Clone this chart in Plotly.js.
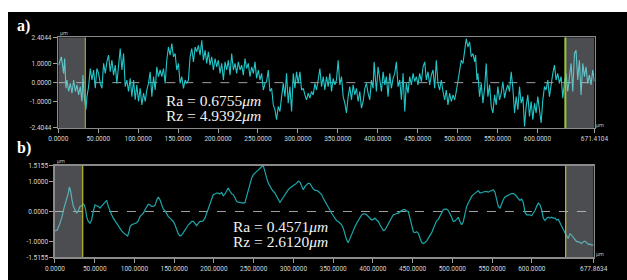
<!DOCTYPE html>
<html>
<head>
<meta charset="utf-8">
<script src="https://cdn.plot.ly/plotly-3.0.1.min.js"></script>
<style>
html,body{margin:0;padding:0;background:#ffffff;width:627px;height:280px;overflow:hidden;}
#chart{position:absolute;left:8px;top:12px;width:619px;height:268px;}
</style>
</head>
<body>
<div id="chart"></div>
<script>
// ---- profile a) ----
var aX = [0.4,3.8,6.7,7.9,9.6,10.8,12.9,15,17.1,19.2,21.3,23.3,25.4,27.5,29.6,30.8,32.5,34.6,35.8,37.9,40,42.1,44.2,46.3,48.3,50.4,52.5,54.6,56.7,58.8,60.8,62.9,65,67.1,69.2,71.3,73.3,75.4,77.5,79.6,81.7,83.8,85.8,87.9,90,92.1,94.2,96.3,98.3,100.4,102.5,104.6,106.7,108.8,110.8,112.9,115,117.1,119.2,121.3,123.3,125.4,127.5,
129.6,131.7,133.8,135.8,137.9,140,142.1,144.2,146.3,148.3,150.4,152.5,154.6,156.7,158.8,160.8,162.9,165,167.1,169.2,171.3,173.3,175.4,177.5,179.6,181.7,183.8,185.8,187.9,190,192.1,194.2,196.3,198.3,200.4,202.5,204.6,206.7,208.8,210.8,212.9,215,217.1,219.2,221.3,223.3,225.4,227.5,229.6,231.7,233.8,235.8,237.9,240,242.1,244.2,246.3,248.3,250.4,252.5,254.6,256.7,258.8,
260.8,262.9,265,267.1,269.2,271.3,273.3,275.4,277.5,279.6,281.7,283.8,285.8,287.9,290,292.1,294.2,296.3,298.3,300.4,302.5,304.6,306.7,308.8,310.8,312.9,315,317.1,319.2,321.3,323.3,325.4,327.5,329.6,331.7,333.8,335.8,337.9,340,342.1,344.2,346.3,348.3,350.4,352.5,354.6,356.7,358.8,360.8,362.9,365,367.1,369.2,371.3,373.3,375.4,377.5,379.6,381.7,383.8,385.8,387.9,390,
392.1,394.2,395.4,397.1,398.3,400.4,402.5,404.6,406.7,408.8,410.8,412.9,415,417.1,419.2,421.3,423.3,425.4,427.5,429.6,431.7,433.8,435.8,437.9,440,442.1,444.2,446.3,448.3,450.4,452.5,454.6,456.7,458.8,460.8,462.9,465,467.1,469.2,471.3,473.3,475.4,477.5,479.6,481.7,483.8,485.8,487.9,490,492.1,494.2,496.3,498.3,500.4,502.5,504.6,506.7,508.8,510.8,512.9,515,517.1,519.2,521.3,
522.5,524.2,525.4,527.5,529.6,531.7,533.8,535.8,537.9,540,542.1,544.2,546.3,548.3,550.4,552.5,554.6,556.7,558.8,560.8,562.9,565,567.1,569.2,571.3,573.3,575.4,577.5,579.6,581.7,583.8,585.8,587.9,590,592.1,594.2,596.3,598.3,600.4,602.5,604.6,606.7,608.8,610.8,612.9,615,617.1,619.2,621.3,623.3,625.4,627.5,629.6,631.7,633.8,635.8,637.9,640,642.1,644.2,646.3,648.3,650.4,652.5,654.6,656.7,658.8,660.8,662.9,665,667.1,669.2,671.4];
var aY = [0.93,1.37,0.49,1.28,-0.30,0.14,-0.47,-0.04,-0.56,0.14,-0.47,-0.12,-0.65,-0.21,-1.0,0.40,-0.74,-1.44,-0.74,-0.21,0.75,0.14,0.67,-0.30,0.75,0.49,-0.04,-0.30,1.02,0.49,1.1,1.46,0.58,1.19,0.40,0.93,-0.04,1.1,1.81,0.67,1.54,-0.21,0.14,-0.47,0.23,-0.74,0.14,-0.91,-0.12,-1.0,-0.30,-1.18,-0.56,-1.0,-0.39,-0.04,0.58,-0.74,0.32,-0.39,0.84,0.32,0.67,
0.32,0.75,-0.04,1.19,1.89,1.46,2.07,1.37,1.54,0.67,1.02,-0.04,0.32,-0.30,0.14,-0.04,0.14,1.37,1.81,1.1,1.89,1.63,1.98,1.46,2.25,1.19,1.72,1.02,1.63,0.93,1.37,0.67,1.28,0.84,1.19,0.49,1.02,0.14,1.1,0.67,1.19,0.40,1.54,0.67,1.02,0.49,1.1,0.67,0.93,0.40,1.28,0.75,1.02,0.32,0.84,0.49,1.1,0.23,0.67,0.14,0.49,-0.39,-0.04,
0.05,0.67,-0.47,-0.30,-1.18,-1.44,-1.96,-1.26,-1.53,-0.74,-0.04,-0.74,0.49,-1.09,-0.21,-1.53,0.49,-0.30,0.58,-0.04,0.58,-0.39,-0.30,-0.65,-0.91,-0.56,-0.82,-0.47,-0.65,-0.04,-0.39,0.14,0.75,-0.21,0.32,-0.39,0.32,-0.21,0.49,-0.47,0.23,-0.12,0.14,1.19,-0.12,0.32,-0.74,-1.09,-1.61,-0.74,-0.21,-0.91,-0.12,-0.65,-0.30,-1.0,-0.47,-1.35,-1.0,-0.30,-0.04,-0.56,-0.91,
0.14,-0.30,1.1,-0.04,-0.47,0.84,0.14,-0.47,0.58,-0.12,0.32,-0.74,0.49,-0.30,0.23,0.49,1.1,-0.21,0.14,-0.91,0.49,-1.53,-0.04,-0.56,0.32,-0.12,0.49,0.05,0.32,-0.12,0.49,0.05,0.84,1.1,0.14,0.58,-0.12,0.40,0.67,-0.30,1.19,-0.04,-0.39,0.14,-0.47,-0.91,-0.39,-1.18,-0.56,-1.0,-0.65,-0.91,-0.47,0.14,0.67,1.19,1.02,1.81,2.33,1.89,2.16,1.37,1.54,1.1,
1.46,0.14,0.49,-0.74,-0.04,-1.09,-0.30,1.02,-0.74,-0.12,-1.26,-1.61,-0.65,-1.18,-0.21,-0.91,-0.56,0.05,-0.82,-0.39,-0.12,-0.47,0.58,-0.30,-1.61,-0.74,-1.44,-0.21,-1.09,-0.74,-2.32,-1.26,-0.65,-1.79,-1.0,-1.96,-1.09,-1.61,-0.74,-1.44,-2.14,-0.91,-0.21,-0.39,0.14,-0.74,-0.04,0.49,0.93,0.14,0.49,-0.04,0.32,-0.82,0.05,0.49,-0.47,0.23,1.02,-0.47,1.54,1.72,0.14,1.19,-0.65,1.02,0.32,0.84,-0.04,0.40,-0.12,0.67,0.05];

// ---- profile b) ----
var bX = [0,2.9,5.5,8.4,11.3,14.7,16.8,18.0,19.7,21.4,23.1,25.2,27.3,29.4,31.5,33.5,35.6,36.9,38.6,39.8,41.9,44.0,46.1,48.2,50.3,52.4,54.5,56.6,58.7,60.8,62.9,65.0,67.1,69.2,71.3,73.4,75.5,77.6,79.7,81.8,83.9,86.0,88.1,90.2,91.4,93.1,94.4,96.5,98.6,100.7,102.8,104.8,106.9,109.0,111.1,113.2,115.3,117.4,119.5,121.6,123.7,125.8,127.9,130.0,132.1,134.2,136.3,138.4,140.5,142.6,144.7,146.8,148.9,151.0,153.1,155.2,157.3,159.4,161.5,163.6,165.7,167.8,169.9,172.0,174.1,176.2,178.2,180.3,182.4,184.5,186.6,188.7,190.8,192.9,195.0,197.1,199.2,201.3,203.4,205.5,207.6,209.7,211.8,213.9,216.0,218.1,220.2,222.3,224.4,226.5,
228.6,230.7,232.8,234.9,237.0,239.1,241.2,243.3,245.4,247.5,249.6,251.7,253.8,255.9,258.0,260.0,262.1,264.2,266.3,268.4,270.5,272.6,274.7,276.8,278.9,281.0,283.1,285.2,287.3,289.4,291.5,293.6,295.7,297.8,299.9,302.0,304.1,306.2,308.3,310.4,312.5,314.6,316.7,318.8,320.9,323.0,325.1,327.2,329.2,331.3,333.4,335.5,337.6,339.7,341.8,343.9,346.0,348.1,350.2,352.3,354.4,356.5,358.6,360.7,362.8,364.9,367.0,369.1,371.2,373.3,375.4,377.5,379.6,381.7,383.8,385.9,388.0,390.1,392.2,394.3,396.4,398.4,400.5,402.6,404.7,406.8,408.9,411.0,413.1,415.2,417.3,419.4,421.5,423.6,425.7,427.8,429.9,432.0,434.1,436.2,438.3,440.4,442.5,444.6,446.7,448.8,450.9,
453.0,455.1,457.2,459.3,461.4,463.5,465.6,467.7,469.8,471.9,474.0,476.1,478.2,480.3,482.3,484.4,486.5,488.6,490.7,492.8,494.9,497.0,499.1,501.2,503.3,505.4,507.5,509.6,511.7,513.8,515.9,518.0,520.1,522.2,524.3,526.4,528.5,530.6,532.7,534.8,536.9,539.0,541.1,543.2,545.3,547.4,549.5,551.6,553.6,555.7,557.8,559.9,562.0,564.1,566.2,568.3,570.4,572.5,574.6,576.7,578.8,580.9,583.0,585.1,587.2,589.3,591.4,593.5,595.6,597.7,599.8,601.9,604.0,606.1,608.2,610.3,612.4,614.5,616.6,618.7,620.8,622.9,624.9,627.0,629.1,631.2,633.3,635.4,637.5,639.6,641.7,643.8,645.9,648.0,650.1,652.2,654.3,656.4,658.5,660.6,662.7,664.8,666.9,669.0,671.1,673.2,675.3,677.86];
var bY = [-0.64,-0.61,-0.44,-0.22,0.11,0.39,0.61,0.81,0.67,0.39,0.17,0.06,-0.06,0.03,0.17,0.19,0.24,0.22,0.06,-0.17,-0.33,-0.39,-0.28,0,0.22,0.19,0.17,0.11,0.17,0.24,0.30,0.37,0.17,0,-0.11,-0.22,-0.31,-0.41,-0.5,-0.58,-0.64,-0.70,-0.74,-0.78,-0.81,-0.67,-0.5,-0.44,-0.41,-0.39,-0.37,-0.31,-0.17,-0.11,-0.06,0.06,0.17,0.24,0.22,0.17,0.17,0.2,0.37,0.48,0.39,0.22,0.08,0.03,-0.08,-0.17,-0.22,-0.26,-0.33,-0.44,-0.61,-0.74,-0.81,-0.78,-0.7,-0.61,-0.5,-0.44,-0.39,-0.33,-0.33,-0.39,-0.47,-0.39,-0.33,-0.33,-0.31,-0.22,-0.06,0.06,0.28,0.44,0.56,0.58,0.61,0.61,0.58,0.63,0.52,0.58,0.67,0.78,0.67,0.59,0.56,0.45,
0.33,0.31,0.30,0.30,0.28,0.30,0.5,0.72,0.94,1.11,1.22,1.28,1.33,1.39,1.44,1.48,1.5155,1.28,1.11,0.94,0.83,0.74,0.67,0.61,0.5,0.41,0.30,0.39,0.48,0.56,0.63,0.72,0.78,0.83,0.86,0.89,0.94,1.0,0.97,0.86,0.72,0.83,0.89,0.94,0.92,0.81,0.74,0.70,0.70,0.67,0.61,0.56,0.44,0.33,0.22,0.11,0.03,-0.06,-0.14,-0.22,-0.31,-0.33,-0.39,-0.44,-0.56,-0.78,-0.94,-1.03,-0.89,-0.74,-0.61,-0.5,-0.39,-0.28,-0.17,-0.11,-0.08,-0.08,-0.11,-0.17,-0.22,-0.28,-0.26,-0.22,-0.28,-0.33,-0.44,-0.56,-0.63,-0.61,-0.5,-0.39,-0.28,-0.17,-0.11,-0.09,-0.06,-0.06,0,0.03,0.06,0.06,0.02,0,-0.22,-0.44,-0.67,
-0.70,-0.67,-0.72,-0.92,-1.03,-1.06,-1.03,-0.97,-0.89,-0.81,-0.70,-0.56,-0.39,-0.30,-0.26,-0.14,-0.03,0.06,0.08,0.08,0.03,-0.06,-0.19,-0.33,-0.31,-0.26,-0.19,-0.33,-0.44,-0.33,-0.06,0.17,0.28,0.41,0.5,0.56,0.61,0.67,0.69,0.61,0.63,0.64,0.66,0.66,0.64,0.67,0.70,0.72,0.64,0.41,0.17,0.11,0.26,0.39,0.48,0.52,0.54,0.57,0.59,0.59,0.56,0.5,0.44,0.37,0.41,0.30,-0.03,-0.11,-0.11,-0.11,-0.14,-0.06,0.03,0.17,0.28,0.22,0.06,-0.22,-0.30,-0.22,-0.19,-0.22,-0.19,-0.22,-0.22,-0.28,-0.26,-0.37,-0.5,-0.59,-0.70,-0.81,-0.89,-0.74,-0.78,-0.86,-0.94,-1.0,-1.0,-1.03,-1.06,-1.0,-0.98,-1.03,-1.09,-1.08,-1.11,-1.1];

var aXmax = 671.4104, aYmax = 2.4044;
var bXmax = 677.8634, bYmax = 1.5155;
var aTicks = [0,50,100,150,200,250,300,350,400,450,500,550,600,671.4104];
var aTickText = ['0.0000','50.0000','100.0000','150.0000','200.0000','250.0000','300.0000','350.0000','400.0000','450.0000','500.0000','550.0000','600.0000','671.4104'];
var bTicks = [0,50,100,150,200,250,300,350,400,450,500,550,600,677.8634];
var bTickText = ['0.0000','50.0000','100.0000','150.0000','200.0000','250.0000','300.0000','350.0000','400.0000','450.0000','500.0000','550.0000','600.0000','677.8634'];
var aYTicks = [-2.4044,-1,0,1,2.4044];
var aYText = ['-2.4044','-1.0000','0.0000','1.0000','2.4044'];
var bYTicks = [-1.5155,-1,0,1,1.5155];
var bYText = ['-1.5155','-1.0000','0.0000','1.0000','1.5155'];
var aCut = [33.8, 634.9];
var bCut = [34.9, 642.6];
var aLabel = ['Ra = 0.6755<i>μm</i>','Rz = 4.9392<i>μm</i>'];
var bLabel = ['Ra = 0.4571<i>μm</i>','Rz = 2.6120<i>μm</i>'];

var tickFont = {family:'Roboto', size:6.5, color:'#d6d6d6'};
function xax(dom, ticks, text, max){
  return {domain:dom, range:[0,max], tickmode:'array', tickvals:ticks, ticktext:text,
    ticks:'outside', ticklen:4, tickcolor:'#a0a0a0', tickwidth:1, tickfont:tickFont,
    showgrid:false, zeroline:false, showline:true, linecolor:'#8a8a8a', linewidth:1.5, mirror:true, fixedrange:true};
}
function yax(dom, ticks, text, max){
  return {domain:dom, range:[-max,max], tickmode:'array', tickvals:ticks, ticktext:text,
    ticks:'outside', ticklen:4, tickcolor:'#a0a0a0', tickwidth:1, tickfont:tickFont,
    showgrid:false, zeroline:false, showline:true, linecolor:'#8a8a8a', linewidth:1.5, mirror:true, fixedrange:true};
}

var traces = [
  {x:aX, y:aY, xaxis:'x', yaxis:'y', mode:'lines', line:{color:'#22c6c8', width:1.1}, hoverinfo:'skip'},
  {x:bX, y:bY, xaxis:'x2', yaxis:'y2', mode:'lines', line:{color:'#1ba6aa', width:1.2}, hoverinfo:'skip'}
];

var grayFill = 'rgba(190,192,200,0.40)';
var shapes = [
  {type:'line', xref:'x', yref:'y', x0:0, x1:aXmax, y0:0, y1:0, line:{color:'#a0a0a0', width:1, dash:'dash'}, layer:'below'},
  {type:'line', xref:'x2', yref:'y2', x0:0, x1:bXmax, y0:0, y1:0, line:{color:'#a0a0a0', width:1, dash:'dash'}, layer:'below'},
  {type:'rect', xref:'x', yref:'y', x0:0, x1:aCut[0], y0:-aYmax, y1:aYmax, fillcolor:grayFill, line:{width:0}, layer:'above'},
  {type:'rect', xref:'x', yref:'y', x0:aCut[1], x1:aXmax, y0:-aYmax, y1:aYmax, fillcolor:grayFill, line:{width:0}, layer:'above'},
  {type:'rect', xref:'x2', yref:'y2', x0:0, x1:bCut[0], y0:-bYmax, y1:bYmax, fillcolor:grayFill, line:{width:0}, layer:'above'},
  {type:'rect', xref:'x2', yref:'y2', x0:bCut[1], x1:bXmax, y0:-bYmax, y1:bYmax, fillcolor:grayFill, line:{width:0}, layer:'above'},
  {type:'line', xref:'x', yref:'y', x0:aCut[0], x1:aCut[0], y0:-aYmax, y1:aYmax, line:{color:'#a8a52a', width:1.2}, layer:'above'},
  {type:'line', xref:'x', yref:'y', x0:aCut[1], x1:aCut[1], y0:-aYmax, y1:aYmax, line:{color:'#9cc43c', width:2}, layer:'above'},
  {type:'line', xref:'x2', yref:'y2', x0:bCut[0], x1:bCut[0], y0:-bYmax, y1:bYmax, line:{color:'#c2bb2a', width:1.2}, layer:'above'},
  {type:'line', xref:'x2', yref:'y2', x0:bCut[1], x1:bCut[1], y0:-bYmax, y1:bYmax, line:{color:'#c2bb2a', width:1.2}, layer:'above'}
];

var serif = 'Liberation Serif, Times New Roman, serif';
var txtFont = {family:serif, size:15.5, color:'#f2f2f2'};
var smallFont = {family:'Roboto', size:5.5, color:'#bdbdbd'};
var annotations = [
  {xref:'paper', yref:'paper', x:0.0258, y:0.9478, text:'<b>a)</b>', showarrow:false, xanchor:'center', yanchor:'middle', font:{family:serif, size:16, color:'#ffffff'}},
  {xref:'paper', yref:'paper', x:0.0258, y:0.4925, text:'<b>b)</b>', showarrow:false, xanchor:'center', yanchor:'middle', font:{family:serif, size:16, color:'#ffffff'}},
  {xref:'paper', yref:'paper', x:0.0897, y:0.9235, text:'μm', showarrow:false, xanchor:'center', yanchor:'middle', font:smallFont},
  {xref:'paper', yref:'paper', x:0.0856, y:0.444, text:'μm', showarrow:false, xanchor:'center', yanchor:'middle', font:smallFont},
  {xref:'paper', yref:'paper', x:0.9564, y:0.5784, text:'μm', showarrow:false, xanchor:'center', yanchor:'middle', font:smallFont},
  {xref:'paper', yref:'paper', x:0.9564, y:0.097, text:'μm', showarrow:false, xanchor:'center', yanchor:'middle', font:smallFont},
  {xref:'x', yref:'y', x:132.5, y:-0.97, text:aLabel[0], showarrow:false, xanchor:'left', yanchor:'middle', font:txtFont},
  {xref:'x', yref:'y', x:132.5, y:-1.76, text:aLabel[1], showarrow:false, xanchor:'left', yanchor:'middle', font:txtFont},
  {xref:'x2', yref:'y2', x:222, y:-0.49, text:bLabel[0], showarrow:false, xanchor:'left', yanchor:'middle', font:txtFont},
  {xref:'x2', yref:'y2', x:222, y:-0.99, text:bLabel[1], showarrow:false, xanchor:'left', yanchor:'middle', font:txtFont}
];

var layout = {
  width:619, height:268, margin:{l:0,r:0,t:0,b:0,pad:0},
  paper_bgcolor:'#000000', plot_bgcolor:'#000000', showlegend:false,
  xaxis: xax([0.0813,0.9475], aTicks, aTickText, aXmax),
  yaxis: yax([0.5672,0.9056], aYTicks, aYText, aYmax),
  xaxis2: xax([0.0759,0.9462], bTicks, bTickText, bXmax),
  yaxis2: yax([0.0847,0.4265], bYTicks, bYText, bYmax),
  shapes:shapes, annotations:annotations
};
layout.xaxis2.anchor = 'y2'; layout.yaxis2.anchor = 'x2';
layout.xaxis.anchor = 'y'; layout.yaxis.anchor = 'x';

Plotly.newPlot('chart', traces, layout, {staticPlot:true, displayModeBar:false});
</script>
</body>
</html>
